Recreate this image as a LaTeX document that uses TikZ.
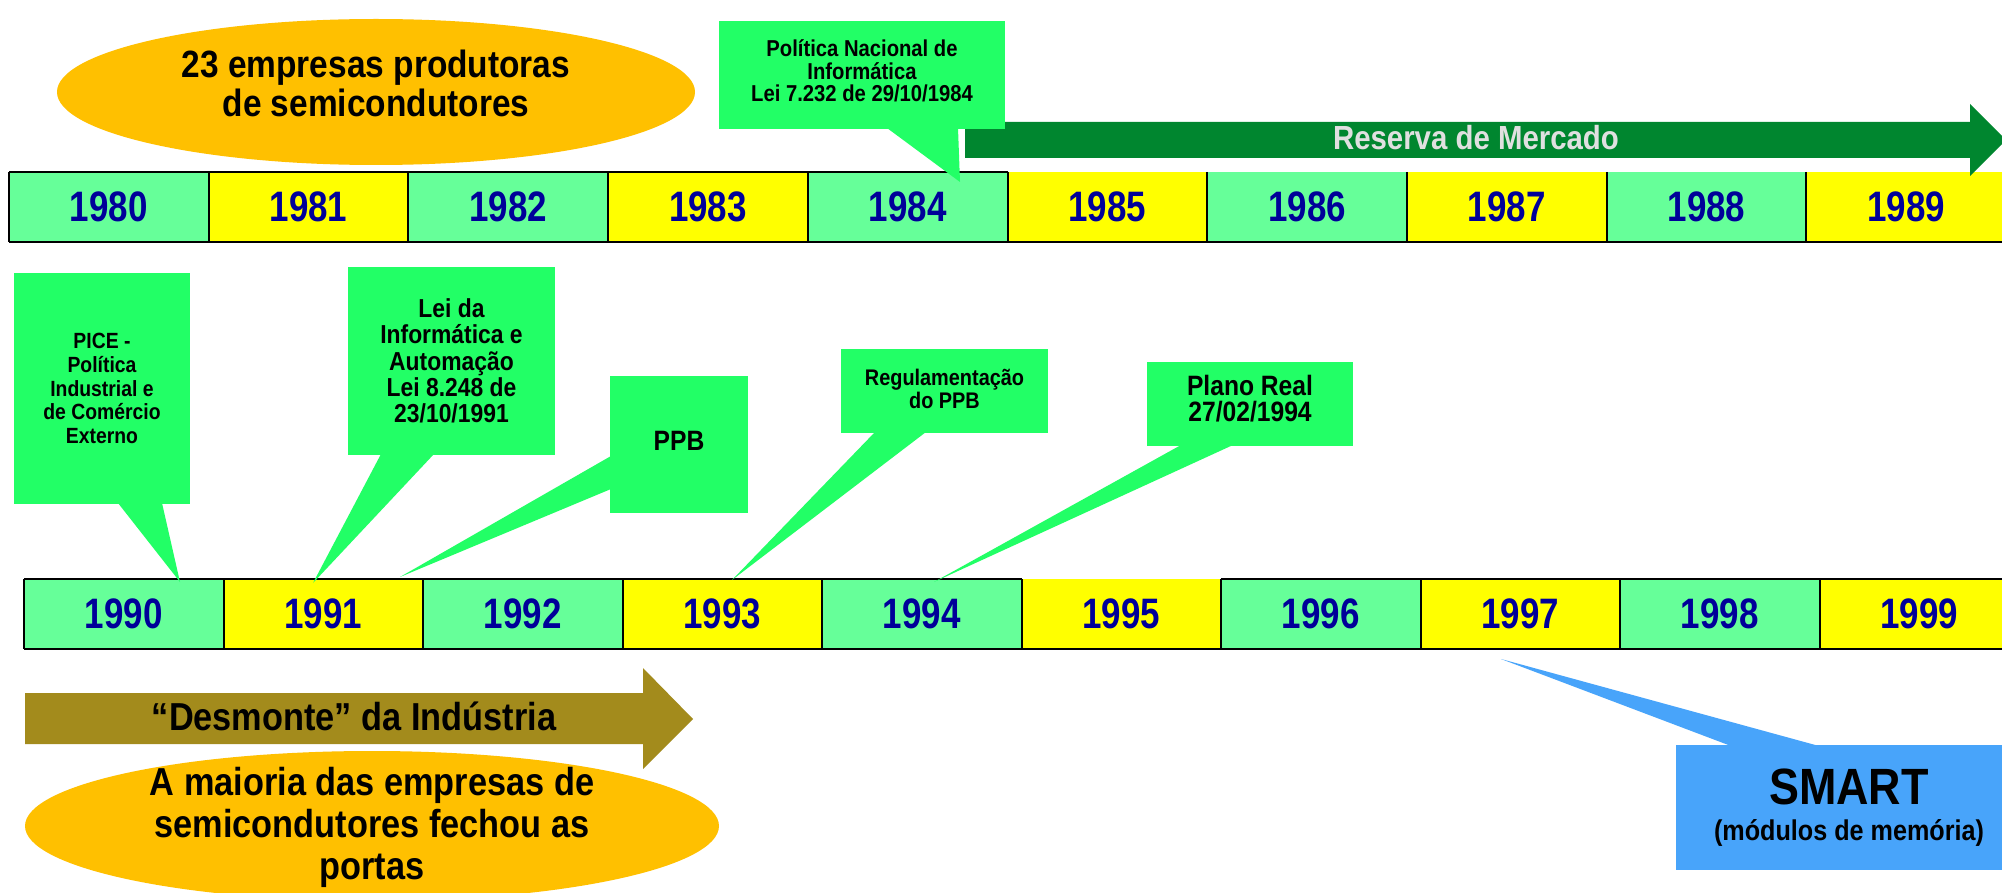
\documentclass[tikz,border=0pt]{standalone}
\usepackage{fontspec}
\newfontfamily\nf{Liberation Sans}[FakeStretch=0.88]
\newfontfamily\nfy{Liberation Sans}[FakeStretch=0.82]
\usetikzlibrary{shapes.geometric}
\definecolor{cg}{RGB}{102,255,153}
\definecolor{cy}{RGB}{255,255,0}
\definecolor{yearblue}{RGB}{0,0,153}
\definecolor{callg}{RGB}{34,255,102}
\definecolor{ellorange}{RGB}{255,192,0}
\definecolor{darkarrow}{RGB}{0,134,47}
\definecolor{olivearrow}{RGB}{163,139,28}
\definecolor{smartblue}{RGB}{72,164,250}
\definecolor{lightgraytext}{RGB}{224,224,224}
\tikzset{
  cellbox/.style={inner sep=0pt, outer sep=0pt, minimum height=35pt, text=yearblue,
    font=\nfy\bfseries\fontsize{21.3}{21.3}\selectfont},
  callbox/.style={fill=callg, inner sep=0pt, outer sep=0pt, align=center, text=black},
  hborder/.style={line width=1.4pt, black},
  vborder/.style={line width=1pt, black},
  elltext/.style={align=center, text=black, inner sep=0pt},
}
\begin{document}
\begin{tikzpicture}[x=0.5pt,y=-0.5pt]
\clip (0,0) rectangle (2002,893);
\fill[white] (0,0) rectangle (2002,893);

% top ellipse
\node[ellipse, fill=ellorange, minimum width=319pt, minimum height=73pt, inner sep=0pt] (ell1) at (376,92) {};
\node[elltext, font=\nf\bfseries\fontsize{19}{19.5}\selectfont] (ell1t) at (376,83) {23 empresas produtoras\\de semicondutores};

% row 1 cells
\foreach \i/\yr/\col in {0/1980/cg,1/1981/cy,2/1982/cg,3/1983/cy,4/1984/cg,5/1985/cy,6/1986/cg,7/1987/cy,8/1988/cg,9/1989/cy}{
  \node[cellbox, fill=\col, minimum width=99.85pt] (c\yr) at ({9+199.7*(\i+0.5)},207) {\yr};
}
\draw[hborder] (c1980.north west) -- (c1984.north east);
\draw[hborder] (c1980.south west) -- (c1989.south east);
\foreach \yr in {1980,...,1989}{
  \draw[vborder] (c\yr.north west) -- (c\yr.south west);
}

% Reserva de Mercado arrow
\fill[darkarrow] (965,122) -- (1970,122) -- (1970,104) -- (2006,140) -- (1970,176) -- (1970,158) -- (965,158) -- cycle;
\node[text=lightgraytext, font=\nf\bfseries\fontsize{16.7}{16.7}\selectfont, inner sep=0pt] (reserva) at (1476,138) {Reserva de Mercado};

% top callout
\coordinate (tip84) at (960,182);
\fill[callg] (887,128) -- (958,128) -- (tip84) -- cycle;
\node[callbox, minimum width=143pt, minimum height=54pt] (pni) at (862,75) {};
\node[elltext, font=\nf\bfseries\fontsize{11.5}{11.3}\selectfont] (pnit) at (862,71) {Política Nacional de\\Informática\\Lei 7.232 de 29/10/1984};

% row 2 cells
\foreach \i/\yr/\col in {0/1990/cg,1/1991/cy,2/1992/cg,3/1993/cy,4/1994/cg,5/1995/cy,6/1996/cg,7/1997/cy,8/1998/cg,9/1999/cy}{
  \node[cellbox, fill=\col, minimum width=99.75pt] (c\yr) at ({24+199.5*(\i+0.5)},614) {\yr};
}
\draw[hborder] (c1990.north west) -- (c1994.north east);
\draw[hborder] (c1996.north west) -- (c1999.north east);
\draw[hborder] (c1990.south west) -- (c1999.south east);
\foreach \yr in {1990,...,1999}{
  \draw[vborder] (c\yr.north west) -- (c\yr.south west);
}

% PICE callout
\coordinate (tip90) at (180,582);
\fill[callg] (118,503) -- (162,503) -- (tip90) -- cycle;
\node[callbox, minimum width=88pt, minimum height=115.5pt, font=\nf\bfseries\fontsize{11}{11.9}\selectfont] (pice) at (102,388.5) {PICE -\\Política\\Industrial e\\de Comércio\\Externo};

% Lei da Informatica callout
\coordinate (tip91) at (313,583);
\fill[callg] (381,454) -- (434,454) -- (tip91) -- cycle;
\node[callbox, minimum width=103.5pt, minimum height=94pt, font=\nf\bfseries\fontsize{13}{13.2}\selectfont] (lei) at (451.5,361) {Lei da\\Informática e\\Automação\\Lei 8.248 de\\23/10/1991};

% PPB callout
\coordinate (tip91b) at (400,577);
\fill[callg] (611,456) -- (611,489) -- (tip91b) -- cycle;
\node[callbox, minimum width=69pt, minimum height=68.5pt, font=\nf\bfseries\fontsize{14}{14}\selectfont] (ppb) at (679,444.5) {\raisebox{4pt}{PPB}};

% Regulamentacao callout
\coordinate (tip93) at (732,580);
\fill[callg] (875,432) -- (926,432) -- (tip93) -- cycle;
\node[callbox, minimum width=103.5pt, minimum height=42pt] (reg) at (944.5,391) {};
\node[elltext, font=\nf\bfseries\fontsize{11.3}{11.5}\selectfont] (regt) at (944.5,389) {Regulamentação\\do PPB};

% Plano Real callout
\coordinate (tip94) at (934,582);
\fill[callg] (1181,445) -- (1233,445) -- (tip94) -- cycle;
\node[callbox, minimum width=103pt, minimum height=42pt] (real) at (1250,404) {};
\node[elltext, font=\nf\bfseries\fontsize{14}{13}\selectfont] (realt) at (1250,399) {Plano Real\\27/02/1994};

% bottom ellipse
\node[ellipse, fill=ellorange, minimum width=347pt, minimum height=75pt, inner sep=0pt] (ell2) at (372,826) {};
\node[elltext, font=\nf\bfseries\fontsize{19.5}{21}\selectfont] (ell2t) at (372,827) {A maioria das empresas de\\semicondutores fechou as\\portas};

% Desmonte arrow
\fill[olivearrow] (25,693) -- (643,693) -- (643,668) -- (693,719) -- (643,769) -- (643,744) -- (25,744) -- cycle;
\node[text=black, font=\nf\bfseries\fontsize{19.5}{19.5}\selectfont, inner sep=0pt] (desm) at (354,716) {“Desmonte” da Indústria};

% SMART callout
\coordinate (tip97) at (1501,659);
\fill[smartblue] (1731,746) -- (1819,746) -- (tip97) -- cycle;
\node[fill=smartblue, inner sep=0pt, outer sep=0pt, minimum width=173pt, minimum height=62.5pt] (smart) at (1849,807.5) {};
\node[text=black, font=\nf\bfseries\fontsize{25.5}{25.5}\selectfont, inner sep=0pt] (smartt) at (1849,787) {SMART};
\node[text=black, font=\nf\bfseries\fontsize{14.3}{14.3}\selectfont, inner sep=0pt] (smartm) at (1849,833) {(módulos de memória)};
\end{tikzpicture}
\end{document}
